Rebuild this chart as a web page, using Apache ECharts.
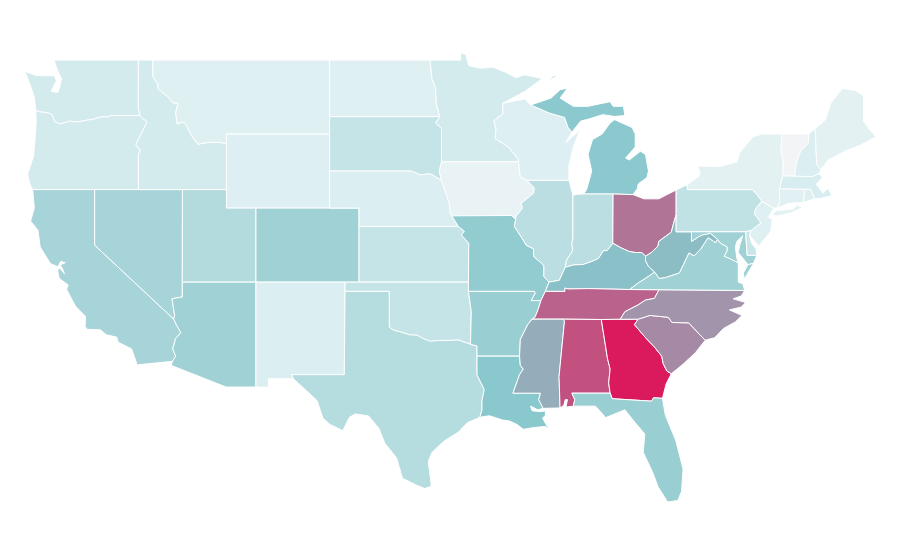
<!DOCTYPE html>
<html>
<head>
<meta charset="utf-8">
<title>US states</title>
<script src="https://cdn.jsdelivr.net/npm/echarts@6/dist/echarts.min.js"></script>
<style>
html, body { margin: 0; padding: 0; background: #fff; }
#main { width: 900px; height: 560px; }
</style>
</head>
<body>
<div id="main"></div>
<script>
// values
const stateNames = ['Washington','Oregon','California','Nevada','Idaho','Montana','Wyoming','Utah','Arizona','Colorado','New Mexico',
  'North Dakota','South Dakota','Nebraska','Kansas','Oklahoma','Texas','Minnesota','Iowa','Missouri','Arkansas','Louisiana',
  'Wisconsin','Illinois','Michigan','Indiana','Ohio','Kentucky','Tennessee','Mississippi','Alabama','Georgia','Florida',
  'South Carolina','North Carolina','Virginia','West Virginia','Pennsylvania','New York','Maryland','Delaware','New Jersey',
  'Connecticut','Rhode Island','Massachusetts','Vermont','New Hampshire','Maine'];
const stateValues = [15,15,36,36,15,10,11,30,39,39,12,
  10,22,12,22,22,29,15,5,45,42,49,
  11,27,48,27,74,52,79,58,84,100,42,
  68,65,39,53,24,8,39,20,10,
  9,11,13,0,12,8];
// colour stops, evenly spaced from 0 to 100
const rampColors = ['#f3f4f5','#dff0f3','#c9e6e9','#b3dbde','#9dd0d4','#87c7cc','#98a6b6','#a982a0','#bb5f89','#cc3d73','#db1a5d'];

// state outlines as lon/lat, each state is a list of rings
const stateShapes = {
  'Washington': [[[-124.73,48.38],[-123.95,48.16],[-123.1,48.15],[-122.75,48.15],[-122.6,47.9],[-122.95,47.3],[-122.5,47.25],[-122.35,47.6],[-122.25,48.0],[-122.5,48.4],[-122.76,49],[-117.03,49],[-117.04,46.42],[-116.92,46],[-118.98,46],[-119,45.93],[-119.6,45.92],[-120.1,45.8],[-120.6,45.74],[-121.2,45.65],[-121.7,45.7],[-122.3,45.55],[-122.7,45.65],[-122.8,45.85],[-122.9,46.05],[-123.2,46.15],[-123.7,46.2],[-124,46.27],[-124.05,46.7],[-124.1,47],[-124.4,47.7]]],
  'Oregon': [[[-124.21,42],[-124.4,42.3],[-124.55,42.84],[-124.15,43.8],[-124.05,44.7],[-123.97,45.6],[-124,46.27],[-123.7,46.2],[-123.2,46.15],[-122.9,46.05],[-122.8,45.85],[-122.7,45.65],[-122.3,45.55],[-121.7,45.7],[-121.2,45.65],[-120.6,45.74],[-120.1,45.8],[-119.6,45.92],[-119,45.93],[-118.98,46],[-116.92,46],[-116.78,45.85],[-116.55,45.75],[-116.46,45.6],[-116.67,45.3],[-116.85,45],[-117.2,44.45],[-117.05,44.25],[-116.9,44.15],[-117.03,43.85],[-117.03,42],[-120,42]]],
  'California': [[[-124.21,42],[-120,42],[-120,39],[-114.63,35],[-114.45,34.7],[-114.15,34.27],[-114.5,33.95],[-114.7,33.4],[-114.5,33],[-114.72,32.72],[-117.12,32.53],[-117.25,32.85],[-117.5,33.4],[-118.4,33.75],[-118.5,34.03],[-119.2,34.15],[-119.6,34.42],[-120.5,34.45],[-120.65,34.6],[-120.62,35.15],[-121.3,35.7],[-121.9,36.6],[-121.8,36.85],[-122.4,37.2],[-122.51,37.6],[-122.45,37.78],[-122.3,37.7],[-122.05,37.45],[-122.2,37.75],[-122.35,37.92],[-122,38.05],[-122.3,38.12],[-122.5,37.83],[-123,38],[-123.7,38.9],[-123.85,39.8],[-124.35,40.3],[-124.1,41]]],
  'Nevada': [[[-120,42],[-114.04,42],[-114.05,37],[-114.05,36.2],[-114.75,36.1],[-114.57,35.2],[-114.63,35],[-120,39]]],
  'Idaho': [[[-117.03,49],[-116.05,49],[-116.05,48.1],[-115.7,47.7],[-115.7,47.45],[-115,47],[-114.7,46.7],[-114.35,46.65],[-114.5,46.15],[-114.4,45.55],[-114,45.65],[-113.8,45.5],[-113.45,44.95],[-113,44.45],[-112.3,44.55],[-111.5,44.55],[-111.05,44.48],[-111.05,42],[-114.04,42],[-117.03,42],[-117.03,43.85],[-116.9,44.15],[-117.05,44.25],[-117.2,44.45],[-116.85,45],[-116.67,45.3],[-116.46,45.6],[-116.55,45.75],[-116.78,45.85],[-116.92,46],[-117.04,46.42]]],
  'Montana': [[[-116.05,49],[-104.05,49],[-104.05,45],[-111.05,45],[-111.05,44.48],[-111.5,44.55],[-112.3,44.55],[-113,44.45],[-113.45,44.95],[-113.8,45.5],[-114,45.65],[-114.4,45.55],[-114.5,46.15],[-114.35,46.65],[-114.7,46.7],[-115,47],[-115.7,47.45],[-115.7,47.7],[-116.05,48.1]]],
  'Wyoming': [[[-111.05,45],[-104.05,45],[-104.05,41],[-111.05,41]]],
  'Utah': [[[-114.04,42],[-111.05,42],[-111.05,41],[-109.05,41],[-109.05,37],[-114.05,37]]],
  'Arizona': [[[-114.05,37],[-109.05,37],[-109.05,31.33],[-111.07,31.33],[-114.8,32.5],[-114.72,32.72],[-114.5,33],[-114.7,33.4],[-114.5,33.95],[-114.15,34.27],[-114.45,34.7],[-114.63,35],[-114.57,35.2],[-114.75,36.1],[-114.05,36.2]]],
  'Colorado': [[[-109.05,41],[-102.05,41],[-102.05,37],[-109.05,37]]],
  'New Mexico': [[[-109.05,37],[-103,37],[-103.05,32],[-106.62,32],[-106.5,31.78],[-108.2,31.78],[-108.2,31.33],[-109.05,31.33]]],
  'North Dakota': [[[-104.05,49],[-97.23,49],[-97.1,48],[-96.85,47.5],[-96.8,46.6],[-96.56,45.94],[-104.05,45.94]]],
  'South Dakota': [[[-104.05,45.94],[-96.56,45.94],[-96.85,45.6],[-96.45,45.3],[-96.45,43.5],[-96.6,43],[-96.45,42.49],[-97.2,42.85],[-97.9,42.8],[-98.5,43],[-104.05,43]]],
  'Nebraska': [[[-104.05,43],[-98.5,43],[-97.9,42.8],[-97.2,42.85],[-96.45,42.49],[-96.1,41.7],[-95.9,41.2],[-95.85,40.7],[-95.75,40.58],[-95.3,40],[-102.05,40],[-102.05,41],[-104.05,41]]],
  'Kansas': [[[-102.05,40],[-95.3,40],[-94.9,39.75],[-95.1,39.55],[-94.6,39.1],[-94.62,37],[-102.05,37]]],
  'Oklahoma': [[[-103,37],[-94.62,37],[-94.62,36.5],[-94.43,35.4],[-94.48,33.64],[-95.3,33.87],[-96,33.85],[-96.6,33.85],[-97.2,33.8],[-97.7,33.95],[-98.1,34.13],[-98.6,34.15],[-99.2,34.3],[-99.7,34.4],[-100,34.56],[-100,36.5],[-103,36.5]]],
  'Texas': [[[-103,36.5],[-100,36.5],[-100,34.56],[-99.7,34.4],[-99.2,34.3],[-98.6,34.15],[-98.1,34.13],[-97.7,33.95],[-97.2,33.8],[-96.6,33.85],[-96,33.85],[-95.3,33.87],[-94.48,33.64],[-94.04,33.55],[-94.04,33],[-94.04,32],[-93.8,31.6],[-93.55,31.2],[-93.7,30.6],[-93.7,30.1],[-93.85,29.7],[-94.7,29.4],[-95.3,28.9],[-96.3,28.4],[-97.1,27.8],[-97.35,27.3],[-97.2,26.4],[-97.15,25.97],[-97.6,25.85],[-98.2,26.05],[-99.1,26.4],[-99.5,27.5],[-100.3,28.3],[-100.7,29.1],[-101.4,29.77],[-102.3,29.88],[-102.7,29.7],[-103.15,28.98],[-104,29.3],[-104.5,29.65],[-104.9,30.6],[-106.5,31.78],[-106.62,32],[-103.05,32]]],
  'Minnesota': [[[-97.23,49],[-95.15,49],[-95.15,49.38],[-94.8,49.3],[-94.6,48.7],[-93.8,48.55],[-92.95,48.62],[-92,48.3],[-91.4,48.05],[-90.8,48.2],[-89.6,48],[-90.8,47.3],[-92.1,46.75],[-92.29,46.66],[-92.29,46.1],[-92.9,45.7],[-92.75,45.3],[-92.8,44.75],[-91.9,44.3],[-91.2,43.6],[-91.22,43.5],[-96.45,43.5],[-96.45,45.3],[-96.85,45.6],[-96.56,45.94],[-96.8,46.6],[-96.85,47.5],[-97.1,48]]],
  'Iowa': [[[-96.45,43.5],[-91.22,43.5],[-91.1,42.7],[-90.65,42.5],[-90.15,42.1],[-90.2,41.8],[-91.05,41.25],[-90.95,41],[-91.4,40.55],[-91.42,40.38],[-91.7,40.6],[-95.75,40.58],[-95.85,40.7],[-95.9,41.2],[-96.1,41.7],[-96.45,42.49],[-96.6,43]]],
  'Missouri': [[[-95.75,40.58],[-91.7,40.6],[-91.42,40.38],[-91.5,40],[-91,39.4],[-90.7,39],[-90.2,38.8],[-90.2,38.4],[-89.5,37.9],[-89.5,37.3],[-89.15,37],[-89.4,36.5],[-89.7,36],[-90.37,36],[-90.1,36.4],[-90.15,36.5],[-94.62,36.5],[-94.62,37],[-94.6,39.1],[-95.1,39.55],[-94.9,39.75],[-95.3,40]]],
  'Arkansas': [[[-94.62,36.5],[-90.15,36.5],[-90.1,36.4],[-90.37,36],[-89.7,36],[-89.9,35.5],[-90.1,35.1],[-90.3,35],[-90.6,34.7],[-91.1,33.9],[-91.15,33],[-94.04,33],[-94.04,33.55],[-94.48,33.64],[-94.43,35.4]]],
  'Louisiana': [[[-94.04,33],[-91.15,33],[-91.1,32.5],[-90.9,32.3],[-91.15,32],[-91.6,31],[-89.73,31],[-89.85,30.65],[-89.55,30.18],[-89.9,30.1],[-90.4,30.3],[-90.3,30.05],[-89.75,30],[-89.4,30.05],[-89.4,29.8],[-89.6,29.65],[-89.15,29.05],[-89.4,29.2],[-90.1,29.15],[-90.9,29.05],[-91.3,29.3],[-91.85,29.5],[-92.3,29.55],[-93.2,29.78],[-93.85,29.7],[-93.7,30.1],[-93.7,30.6],[-93.55,31.2],[-93.8,31.6],[-94.04,32]]],
  'Wisconsin': [[[-92.29,46.66],[-90.8,46.9],[-90.4,46.57],[-89.1,46.13],[-88.1,45.9],[-87.85,45.35],[-87.6,45.1],[-88,44.55],[-87.35,45.0],[-87.05,45.25],[-87.5,44.3],[-87.8,43.3],[-87.8,42.5],[-90.65,42.5],[-91.1,42.7],[-91.22,43.5],[-91.2,43.6],[-91.9,44.3],[-92.8,44.75],[-92.75,45.3],[-92.9,45.7],[-92.29,46.1]]],
  'Illinois': [[[-90.65,42.5],[-87.8,42.5],[-87.53,41.7],[-87.53,39.35],[-87.6,39.1],[-87.55,38.7],[-87.95,38.2],[-88.05,37.8],[-88.45,37.1],[-89.15,37],[-89.5,37.3],[-89.5,37.9],[-90.2,38.4],[-90.2,38.8],[-90.7,39],[-91,39.4],[-91.5,40],[-91.42,40.38],[-91.4,40.55],[-90.95,41],[-91.05,41.25],[-90.2,41.8],[-90.15,42.1]]],
  'Michigan': [
    [[-86.8,41.76],[-84.8,41.76],[-83.45,41.73],[-83.15,42.05],[-83.1,42.3],[-82.5,42.65],[-82.4,43],[-82.6,43.9],[-82.95,44.07],[-83.7,43.6],[-83.95,43.7],[-83.3,44.3],[-83.3,45],[-83.5,45.35],[-84.7,45.78],[-85,45.6],[-85.55,45],[-86.2,44.7],[-86.5,43.9],[-86.25,43],[-86.6,42]],
    [[-90.4,46.57],[-89,46.95],[-88.4,47.4],[-87.9,47.47],[-88.4,46.95],[-87.5,46.5],[-86.5,46.5],[-85,46.75],[-84.8,46.5],[-84.1,46.5],[-84,46],[-84.7,45.95],[-85.5,46.05],[-86.5,45.8],[-87,45.7],[-87.6,45.1],[-87.85,45.35],[-88.1,45.9],[-89.1,46.13]],
    [[-89.2,47.88],[-88.6,48.15],[-88.8,48.15],[-89.1,47.98]]
  ],
  'Indiana': [[[-87.53,41.7],[-87.2,41.75],[-86.8,41.76],[-84.8,41.76],[-84.82,39.1],[-85.2,38.7],[-85.45,38.7],[-85.8,38.27],[-86.3,38.1],[-86.85,37.95],[-87.5,37.93],[-88.05,37.8],[-87.95,38.2],[-87.55,38.7],[-87.6,39.1],[-87.53,39.35]]],
  'Ohio': [[[-84.8,41.76],[-83.45,41.73],[-82.7,41.5],[-81.7,41.5],[-80.52,41.98],[-80.52,40.64],[-80.65,40.3],[-80.85,39.7],[-81.7,39.2],[-81.75,38.95],[-82.2,38.6],[-82.6,38.4],[-82.85,38.6],[-83.3,38.6],[-83.7,38.65],[-84.25,38.85],[-84.82,39.1]]],
  'Kentucky': [[[-89.4,36.5],[-88.07,36.5],[-88.07,36.68],[-87.85,36.63],[-86.5,36.65],[-83.68,36.6],[-83.1,36.95],[-82.7,37.15],[-81.97,37.54],[-82.4,37.85],[-82.6,38.17],[-82.6,38.4],[-82.85,38.6],[-83.3,38.6],[-83.7,38.65],[-84.25,38.85],[-84.82,39.1],[-85.2,38.7],[-85.45,38.7],[-85.8,38.27],[-86.3,38.1],[-86.85,37.95],[-87.5,37.93],[-88.05,37.8],[-88.45,37.1],[-89.15,37]]],
  'Tennessee': [[[-90.3,35],[-90.1,35.1],[-89.9,35.5],[-89.7,36],[-89.4,36.5],[-88.07,36.5],[-88.07,36.68],[-87.85,36.63],[-86.5,36.65],[-83.68,36.6],[-81.68,36.59],[-82,36.12],[-82.6,36.03],[-83.1,35.77],[-84,35.4],[-84.32,34.99],[-85.6,34.98],[-88.2,35]]],
  'Mississippi': [[[-90.3,35],[-88.2,35],[-88.1,34.9],[-88.47,31.9],[-88.4,30.2],[-89.55,30.18],[-89.85,30.65],[-89.73,31],[-91.6,31],[-91.15,32],[-90.9,32.3],[-91.1,32.5],[-91.15,33],[-91.1,33.9],[-90.6,34.7]]],
  'Alabama': [[[-88.2,35],[-85.6,34.98],[-85.18,32.87],[-85,32.3],[-85.1,31.55],[-85,31],[-87.6,31],[-87.4,30.65],[-87.5,30.3],[-88,30.25],[-87.9,30.65],[-88.05,30.65],[-88.15,30.35],[-88.4,30.2],[-88.47,31.9],[-88.1,34.9]]],
  'Georgia': [[[-85.6,34.98],[-84.32,34.99],[-83.1,35],[-83.35,34.7],[-82.6,34],[-82,33.5],[-81.5,33],[-81.4,32.6],[-81.15,32.2],[-80.85,32.05],[-81.2,31.5],[-81.45,30.72],[-82.05,30.75],[-82.2,30.57],[-84.86,30.7],[-85,31],[-85.1,31.55],[-85,32.3],[-85.18,32.87]]],
  'Florida': [[[-87.6,31],[-85,31],[-84.86,30.7],[-82.2,30.57],[-82.05,30.75],[-81.45,30.72],[-81.25,29.8],[-80.55,28.45],[-80.05,26.9],[-80.15,25.7],[-80.4,25.2],[-81.1,25.12],[-81.75,25.95],[-82.1,26.7],[-82.75,27.8],[-82.65,28.8],[-83.4,29.5],[-84,30.1],[-85.3,29.68],[-86,30.3],[-87.5,30.3],[-87.4,30.65]]],
  'South Carolina': [[[-83.1,35],[-82.3,35.2],[-81.05,35.1],[-80.8,34.82],[-79.67,34.8],[-78.55,33.86],[-79.2,33.2],[-80,32.6],[-80.85,32.05],[-81.15,32.2],[-81.4,32.6],[-81.5,33],[-82,33.5],[-82.6,34],[-83.35,34.7]]],
  'North Carolina': [[[-84.32,34.99],[-84,35.4],[-83.1,35.77],[-82.6,36.03],[-82,36.12],[-81.68,36.59],[-75.87,36.55],[-76.1,36.25],[-76.65,36.1],[-75.8,35.9],[-76.1,35.65],[-76.9,35.5],[-76.05,35.2],[-76.5,34.85],[-77.3,34.5],[-77.9,34],[-78.55,33.86],[-79.67,34.8],[-80.8,34.82],[-81.05,35.1],[-82.3,35.2],[-83.1,35]]],
  'Virginia': [
    [[-83.68,36.6],[-81.68,36.59],[-75.87,36.55],[-75.98,36.9],[-76.3,37],[-76.3,37.55],[-76.3,38.05],[-76.95,38.3],[-77.25,38.4],[-77.05,38.7],[-77.05,38.9],[-77.5,39.1],[-77.72,39.32],[-77.83,39.13],[-78.35,39.4],[-78.87,38.77],[-79.3,38.42],[-79.65,38.58],[-80.3,37.5],[-81.25,37.25],[-81.68,37.2],[-81.97,37.54],[-82.7,37.15],[-83.1,36.95]],
    [[-75.65,37.95],[-75.25,38.03],[-75.9,37.15],[-75.95,37.5]]
  ],
  'West Virginia': [[[-80.52,40.64],[-80.52,39.72],[-79.48,39.72],[-79.48,39.2],[-79,39.45],[-78.75,39.55],[-78.4,39.6],[-78.2,39.65],[-77.72,39.32],[-77.83,39.13],[-78.35,39.4],[-78.87,38.77],[-79.3,38.42],[-79.65,38.58],[-80.3,37.5],[-81.25,37.25],[-81.68,37.2],[-81.97,37.54],[-82.4,37.85],[-82.6,38.17],[-82.6,38.4],[-82.2,38.6],[-81.75,38.95],[-81.7,39.2],[-80.85,39.7],[-80.65,40.3]]],
  'Pennsylvania': [[[-80.52,41.98],[-79.76,42.27],[-79.76,42],[-75.35,42],[-75.05,41.75],[-74.7,41.36],[-75.1,41],[-75.2,40.7],[-74.75,40.2],[-75.4,39.8],[-75.8,39.72],[-79.48,39.72],[-80.52,39.72],[-80.52,40.64]]],
  'New York': [
    [[-79.76,42.27],[-79,42.7],[-78.9,42.9],[-79.05,43.27],[-77.5,43.25],[-76.4,43.5],[-76.2,44],[-75.3,44.85],[-74.7,45],[-73.35,45],[-73.4,44],[-73.25,43.6],[-73.27,42.75],[-73.5,42.05],[-73.5,41.3],[-73.65,41],[-73.9,41],[-74.7,41.36],[-75.05,41.75],[-75.35,42],[-79.76,42]],
    [[-74,40.6],[-73.75,40.85],[-72.6,40.95],[-72.3,41.15],[-71.9,41.05],[-72.7,40.75],[-73.6,40.58]]
  ],
  'Maryland': [[[-79.48,39.72],[-75.8,39.72],[-75.7,38.45],[-75.05,38.45],[-75.25,38.03],[-75.65,37.95],[-76,38.3],[-76.3,38.6],[-76.2,39],[-76,39.5],[-76.4,39.2],[-76.5,38.9],[-76.4,38.3],[-76.3,38.05],[-76.95,38.3],[-77.25,38.4],[-77.05,38.7],[-77.05,38.9],[-77.5,39.1],[-77.72,39.32],[-78.2,39.65],[-78.4,39.6],[-78.75,39.55],[-79,39.45],[-79.48,39.2]]],
  'Delaware': [[[-75.8,39.72],[-75.4,39.8],[-75.55,39.55],[-75.4,39.1],[-75.1,38.8],[-75.05,38.45],[-75.7,38.45]]],
  'New Jersey': [[[-74.7,41.36],[-73.9,41],[-74.25,40.5],[-74,40.4],[-74.1,39.75],[-74.9,38.95],[-75.3,39.3],[-75.55,39.55],[-75.4,39.8],[-74.75,40.2],[-75.2,40.7],[-75.1,41]]],
  'Connecticut': [[[-73.5,42.05],[-71.8,42.02],[-71.85,41.32],[-72.9,41.25],[-73.65,41],[-73.5,41.3]]],
  'Rhode Island': [[[-71.8,42.02],[-71.38,42.02],[-71.12,41.5],[-71.85,41.32]]],
  'Massachusetts': [[[-73.5,42.05],[-73.27,42.75],[-72.46,42.73],[-71.3,42.7],[-70.82,42.87],[-70.6,42.65],[-71,42.3],[-70.55,41.8],[-70.2,42.07],[-69.95,41.67],[-70.6,41.55],[-71.12,41.5],[-71.38,42.02],[-71.8,42.02]]],
  'Vermont': [[[-73.35,45],[-71.5,45.01],[-71.55,44.5],[-72.05,44.1],[-72.3,43.6],[-72.45,43],[-72.46,42.73],[-73.27,42.75],[-73.25,43.6],[-73.4,44]]],
  'New Hampshire': [[[-71.5,45.01],[-71.08,45.3],[-70.98,43.4],[-70.7,43.07],[-70.82,42.87],[-71.3,42.7],[-72.46,42.73],[-72.45,43],[-72.3,43.6],[-72.05,44.1],[-71.55,44.5]]],
  'Maine': [[[-71.08,45.3],[-70.4,45.75],[-70,46.7],[-69.23,47.46],[-68.35,47.35],[-67.8,47.07],[-67.8,45.7],[-67.45,45.3],[-66.95,44.85],[-68,44.4],[-69,44.1],[-70.2,43.6],[-70.7,43.07],[-70.98,43.4]]]
};

// build the geojson
var features = [];
stateNames.forEach(function (name) {
    // close every ring
    var rings = stateShapes[name].map(function (ring) {
        return ring.concat([ring[0]]);
    });
    features.push({
        type: 'Feature',
        properties: { name: name },
        geometry: { type: 'MultiPolygon', coordinates: rings.map(function (r) { return [r]; }) }
    });
});
echarts.registerMap('usa', { type: 'FeatureCollection', features: features });

var mapData = stateNames.map(function (name, i) {
    return { name: name, value: stateValues[i] };
});

var option = {
    backgroundColor: '#ffffff',
    animation: false,
    visualMap: {
        show: false,
        min: 0,
        max: 100,
        inRange: { color: rampColors }
    },
    series: [
        {
            type: 'map',
            map: 'usa',
            roam: false,
            silent: true,
            aspectScale: 0.796,
            boundingCoords: [[-124.73, 49.38], [-66.95, 25.12]],
            left: 25,
            top: 53,
            width: 851,
            height: 449,
            label: { show: false },
            itemStyle: { borderColor: '#ffffff', borderWidth: 1 },
            data: mapData
        }
    ]
};

var myChart = echarts.init(document.getElementById('main'));
myChart.setOption(option);
</script>
</body>
</html>
